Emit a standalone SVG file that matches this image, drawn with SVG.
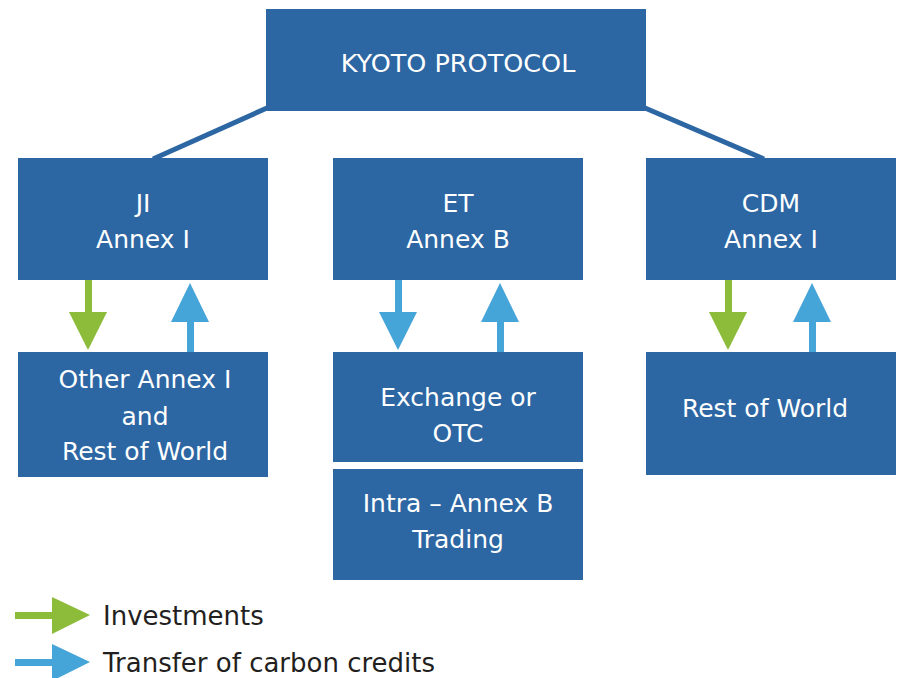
<svg xmlns="http://www.w3.org/2000/svg" width="900" height="678" viewBox="0 0 900 678">
<style>
.box{fill:#2c66a3}
.t{font-family:"DejaVu Sans",sans-serif;font-size:25px;fill:#ffffff;text-anchor:middle}
.lg{font-family:"DejaVu Sans",sans-serif;font-size:26px;fill:#231f20}
.g{fill:#8dbb3a}
.b{fill:#45a4d8}
.conn{stroke:#2c66a3;stroke-width:5;fill:none}
</style>
<rect width="900" height="678" fill="#ffffff"/>
<g id="connectors">
<line class="conn" x1="267" y1="108" x2="153" y2="159"/>
<line class="conn" x1="645" y1="108" x2="764" y2="159"/>
<g id="ji-invest"><rect class="g" x="85" y="280" width="7" height="33"/><polygon class="g" points="69,312 107,312 88,350"/></g>
<g id="ji-credit"><rect class="b" x="187" y="320" width="7" height="32"/><polygon class="b" points="171,322 209,322 190,283"/></g>
<g id="et-down"><rect class="b" x="395" y="280" width="7" height="33"/><polygon class="b" points="379,312 417,312 398,350"/></g>
<g id="et-up"><rect class="b" x="497" y="320" width="7" height="32"/><polygon class="b" points="481,322 519,322 500,283"/></g>
<g id="cdm-invest"><rect class="g" x="725" y="280" width="7" height="33"/><polygon class="g" points="709,312 747,312 728,350"/></g>
<g id="cdm-credit"><rect class="b" x="809" y="320" width="7" height="32"/><polygon class="b" points="793,322 831,322 812,283"/></g>
</g>
<g id="kyoto"><rect class="box" x="266" y="9" width="380" height="102"/><text class="t" x="458" y="72" style="font-size:25.5px">KYOTO PROTOCOL</text></g>
<g id="ji"><rect class="box" x="18" y="158" width="250" height="122"/><text class="t" x="143" y="212">JI</text><text class="t" x="143" y="248">Annex I</text></g>
<g id="et"><rect class="box" x="333" y="158" width="250" height="122"/><text class="t" x="458" y="212">ET</text><text class="t" x="458" y="248">Annex B</text></g>
<g id="cdm"><rect class="box" x="646" y="158" width="250" height="122"/><text class="t" x="771" y="212">CDM</text><text class="t" x="771" y="248">Annex I</text></g>
<g id="other"><rect class="box" x="18" y="352" width="250" height="125"/><text class="t" x="145" y="388">Other Annex I</text><text class="t" x="145" y="425">and</text><text class="t" x="145" y="460">Rest of World</text></g>
<g id="exchange"><rect class="box" x="333" y="352" width="250" height="110"/><text class="t" x="458" y="406">Exchange or</text><text class="t" x="458" y="442">OTC</text></g>
<g id="intra"><rect class="box" x="333" y="469" width="250" height="111"/><text class="t" x="458" y="512">Intra – Annex B</text><text class="t" x="458" y="548">Trading</text></g>
<g id="rest"><rect class="box" x="646" y="352" width="250" height="123"/><text class="t" x="765" y="417">Rest of World</text></g>
<g id="legend">
<rect class="g" x="15" y="612" width="38" height="7"/><polygon class="g" points="52,597 90,615 52,634"/>
<text class="lg" x="103" y="625">Investments</text>
<rect class="b" x="15" y="659" width="38" height="7"/><polygon class="b" points="52,644 90,662 52,681"/>
<text class="lg" x="103" y="672">Transfer of carbon credits</text>
</g>
</svg>
